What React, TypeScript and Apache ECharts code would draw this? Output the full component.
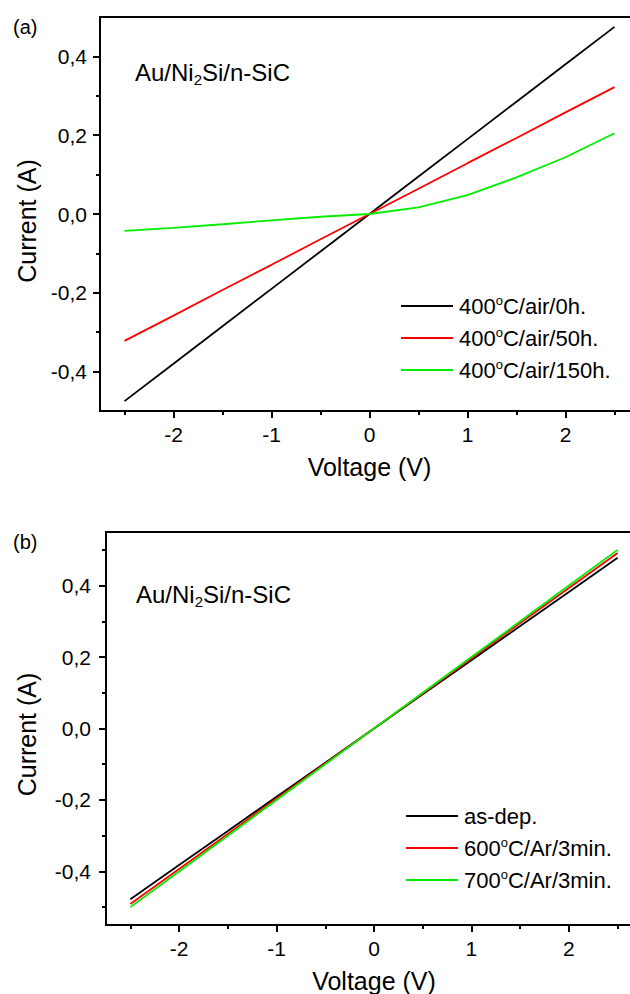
import React, { useEffect, useRef } from "react";
import * as echarts from "echarts";

const FONT = "'Liberation Sans', Arial, Helvetica, sans-serif";

// Voltage sample points (V)
const voltage = [-2.5, -2, -1.5, -1, -0.5, 0, 0.5, 1, 1.5, 2, 2.5];

// Panel (a) currents (A)
const airNames = ["400°C/air/0h.", "400°C/air/50h.", "400°C/air/150h."];
const air0h = [-0.475, -0.38, -0.285, -0.19, -0.095, 0, 0.095, 0.19, 0.285, 0.38, 0.475];
const air50h = [-0.322, -0.258, -0.193, -0.129, -0.064, 0, 0.064, 0.129, 0.193, 0.258, 0.322];
const air150h = [-0.043, -0.035, -0.026, -0.016, -0.007, 0, 0.017, 0.048, 0.093, 0.144, 0.205];

// Panel (b) currents (A)
const arNames = ["as-dep.", "600°C/Ar/3min.", "700°C/Ar/3min."];
const asDep = [-0.478, -0.382, -0.287, -0.191, -0.096, 0, 0.096, 0.191, 0.287, 0.382, 0.478];
const ar600 = [-0.491, -0.393, -0.295, -0.196, -0.098, 0, 0.098, 0.196, 0.295, 0.393, 0.491];
const ar700 = [-0.5, -0.4, -0.3, -0.2, -0.1, 0, 0.1, 0.2, 0.3, 0.4, 0.5];

const lineColors = ["#000000", "#ff0000", "#00ee00"];

// Ticks
const xMajor = [-2, -1, 0, 1, 2];
const xMinor = [-2.5, -1.5, -0.5, 0.5, 1.5, 2.5];
const yMajor = [-0.4, -0.2, 0, 0.2, 0.4];
const yMinorA = [-0.3, -0.1, 0.1, 0.3];
const yMinorB = [-0.5, -0.3, -0.1, 0.1, 0.3, 0.5];

const pairs = (ys: number[]) => voltage.map((v, i) => [v, ys[i]]);

const fmtY = (v: number) => (Math.abs(v) < 1e-9 ? "0,0" : v.toFixed(1).replace(".", ","));

const legendFmt = (name: string) => {
  const parts = name.split("°");
  if (parts.length === 1) return `{n|${name}}`;
  return `{n|${parts[0]}}{s|o}{n|${parts[1]}}`;
};

function mainX(grid: number, min: number, max: number) {
  return {
    type: "value",
    gridIndex: grid,
    position: "bottom",
    min,
    max,
    axisLine: { show: true, onZero: false, lineStyle: { color: "#000", width: 2 } },
    axisTick: { show: true, customValues: xMajor, length: 7, lineStyle: { color: "#000", width: 2 } },
    axisLabel: {
      customValues: xMajor,
      formatter: (v: number) => String(v),
      color: "#000",
      fontSize: 21,
      fontFamily: FONT,
      margin: 13,
    },
    splitLine: { show: false },
    name: "Voltage (V)",
    nameLocation: "middle",
    nameGap: 43,
    nameTextStyle: { color: "#000", fontSize: 25, fontFamily: FONT },
  };
}

function minorX(grid: number, min: number, max: number) {
  return {
    type: "value",
    gridIndex: grid,
    position: "bottom",
    min,
    max,
    axisLine: { show: false, onZero: false },
    axisTick: { show: true, customValues: xMinor, length: 4, lineStyle: { color: "#000", width: 2 } },
    axisLabel: { show: false },
    splitLine: { show: false },
  };
}

function mainY(grid: number, min: number, max: number, margin: number, gap: number, pad: number) {
  return {
    type: "value",
    gridIndex: grid,
    position: "left",
    min,
    max,
    axisLine: { show: true, onZero: false, lineStyle: { color: "#000", width: 2 } },
    axisTick: { show: true, customValues: yMajor, length: 7, lineStyle: { color: "#000", width: 2 } },
    axisLabel: {
      customValues: yMajor,
      formatter: fmtY,
      color: "#000",
      fontSize: 21,
      fontFamily: FONT,
      margin,
    },
    splitLine: { show: false },
    name: "Current (A)",
    nameLocation: "middle",
    nameGap: gap,
    nameTextStyle: { color: "#000", fontSize: 25, fontFamily: FONT, padding: [0, pad, 0, 0] },
  };
}

function minorY(grid: number, min: number, max: number, ticks: number[]) {
  return {
    type: "value",
    gridIndex: grid,
    position: "left",
    min,
    max,
    axisLine: { show: false, onZero: false },
    axisTick: { show: true, customValues: ticks, length: 4, lineStyle: { color: "#000", width: 2 } },
    axisLabel: { show: false },
    splitLine: { show: false },
  };
}

function lineSeries(name: string, ys: number[], color: string, xi: number, yi: number) {
  return {
    type: "line",
    name,
    xAxisIndex: xi,
    yAxisIndex: yi,
    data: pairs(ys),
    showSymbol: false,
    symbol: "none",
    lineStyle: { color, width: 1.8 },
    itemStyle: { color },
    emphasis: { disabled: true },
  };
}

const legendRich = {
  n: { fontSize: 22, lineHeight: 24, fontFamily: FONT, color: "#000" },
  s: { fontSize: 13, lineHeight: 12, fontFamily: FONT, color: "#000", verticalAlign: "top" },
};

function legend(names: string[], left: number, top: number) {
  return {
    data: names,
    orient: "vertical",
    left,
    top,
    icon: "rect",
    itemWidth: 52,
    itemHeight: 2,
    itemGap: 9,
    padding: 0,
    selectedMode: false,
    formatter: legendFmt,
    textStyle: { rich: legendRich, padding: [0, 0, 0, 1] },
  };
}

const titleRich = {
  a: { fontSize: 24, lineHeight: 30, fontFamily: FONT, color: "#000" },
  b: { fontSize: 15, lineHeight: 10, fontFamily: FONT, color: "#000", verticalAlign: "bottom" },
};

function sampleLabel(x: number, y: number) {
  return {
    type: "text",
    x,
    y,
    style: {
      text: "{a|Au/Ni}{b|2}{a|Si/n-SiC}",
      rich: titleRich,
      verticalAlign: "top",
      align: "left",
    },
  };
}

function panelLabel(text: string, x: number, y: number) {
  return {
    type: "text",
    x,
    y,
    style: {
      text,
      fontSize: 20,
      fontFamily: FONT,
      fill: "#000",
      verticalAlign: "middle",
      align: "left",
    },
  };
}

export default function App() {
  const ref = useRef<HTMLDivElement>(null);
  useEffect(() => {
    if (!ref.current) return;
    const chart = echarts.init(ref.current, null, { renderer: "svg" });
    const option: any = {
      animation: false,
      backgroundColor: "#ffffff",
      grid: [
        { left: 100, top: 17, width: 539, height: 394, show: true, borderColor: "#000", borderWidth: 2 },
        { left: 106, top: 532, width: 536, height: 394, show: true, borderColor: "#000", borderWidth: 2 },
      ],
      xAxis: [
        mainX(0, -2.75, 2.75),
        minorX(0, -2.75, 2.75),
        mainX(1, -2.75, 2.75),
        minorX(1, -2.75, 2.75),
      ],
      yAxis: [
        mainY(0, -0.5, 0.5, 13, 60, 14),
        minorY(0, -0.5, 0.5, yMinorA),
        mainY(1, -0.55, 0.55, 15, 67, 12),
        minorY(1, -0.55, 0.55, yMinorB),
      ],
      legend: [legend(airNames, 401, 294), legend(arNames, 406, 805)],
      series: [
        lineSeries(airNames[0], air0h, lineColors[0], 0, 0),
        lineSeries(airNames[1], air50h, lineColors[1], 0, 0),
        lineSeries(airNames[2], air150h, lineColors[2], 0, 0),
        lineSeries(arNames[0], asDep, lineColors[0], 2, 2),
        lineSeries(arNames[1], ar600, lineColors[1], 2, 2),
        lineSeries(arNames[2], ar700, lineColors[2], 2, 2),
      ],
      graphic: [
        panelLabel("(a)", 13, 27),
        panelLabel("(b)", 13, 542),
        sampleLabel(135, 57),
        sampleLabel(136, 579),
      ],
    };
    chart.setOption(option);
    return () => chart.dispose();
  }, []);
  return (
    <div
      style={{
        position: "fixed",
        left: 0,
        top: 0,
        width: 630,
        height: 994,
        overflow: "hidden",
        background: "#fff",
      }}
    >
      <div ref={ref} style={{ width: 660, height: 994 }} />
    </div>
  );
}
